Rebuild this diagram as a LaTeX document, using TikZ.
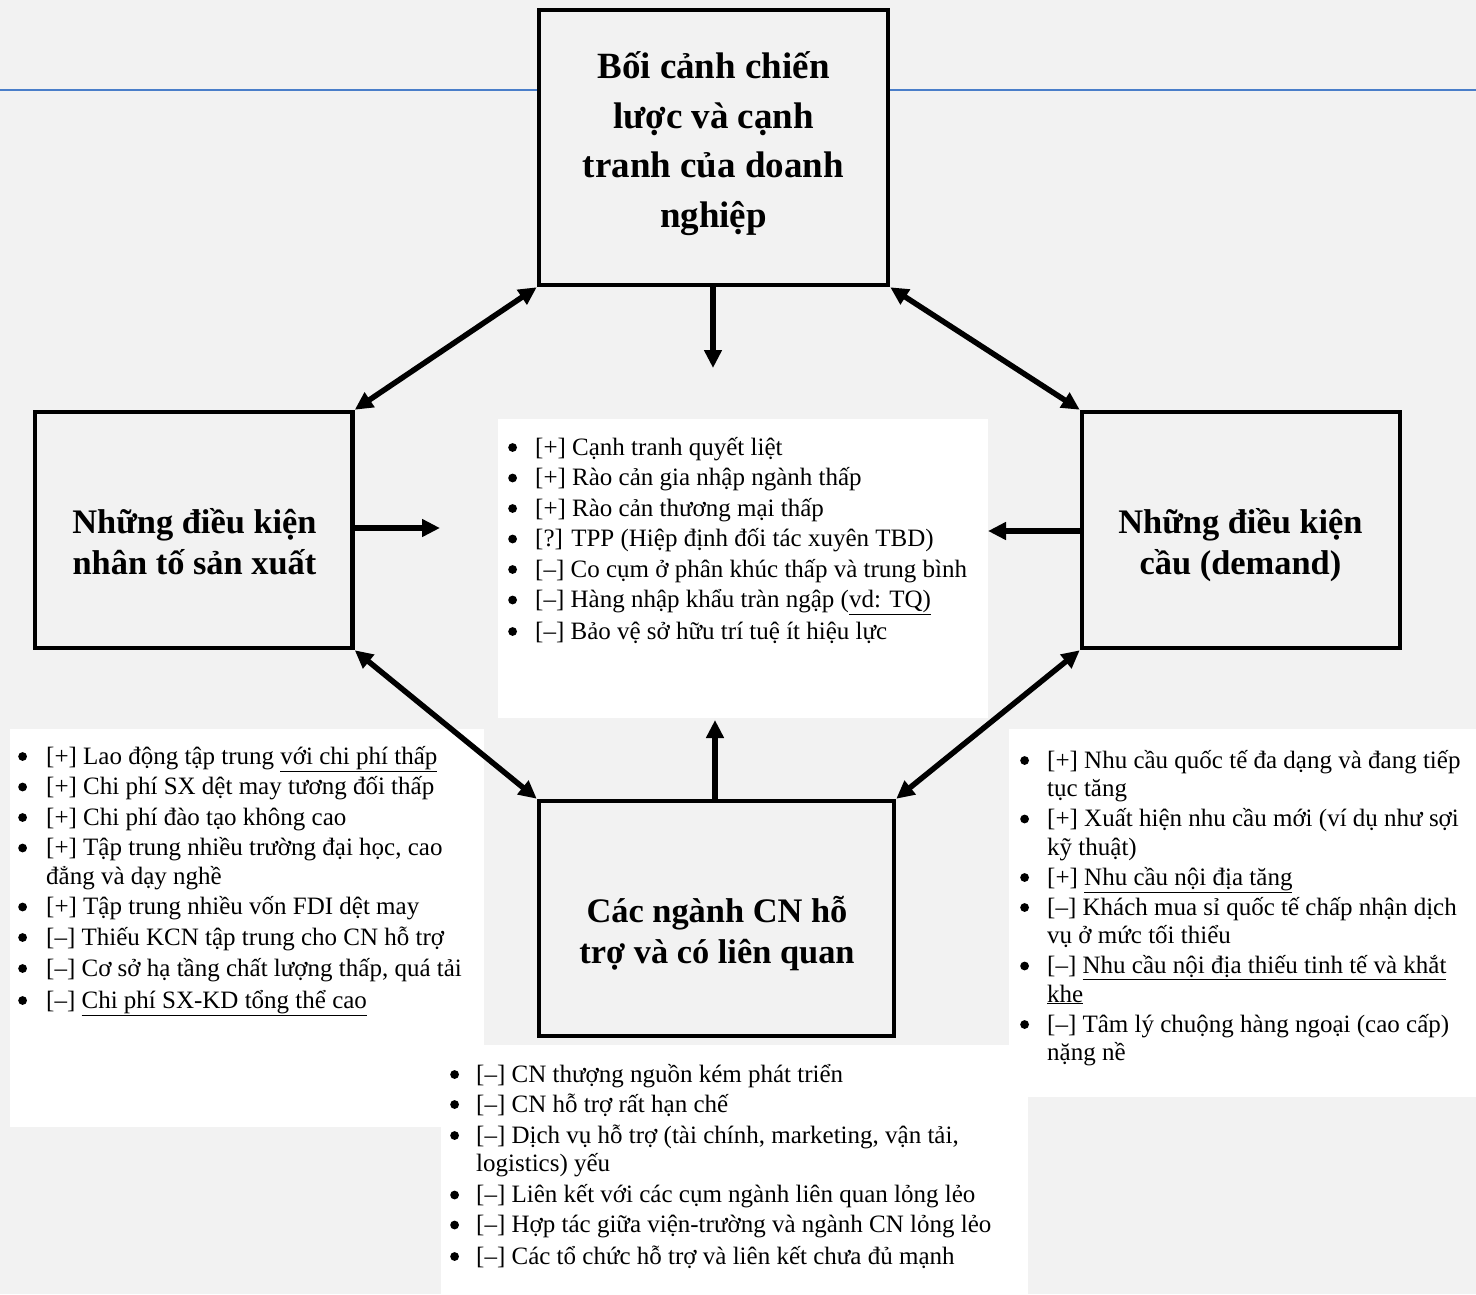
\documentclass[tikz,border=0pt]{standalone}
\usepackage{fontspec}
\setmainfont{Liberation Serif}
\usetikzlibrary{arrows.meta}
\definecolor{bgc}{HTML}{F2F2F2}
\definecolor{rulec}{HTML}{4A7EC9}
\newlength\bw
% round list bullet, centred on the x-height
\newcommand\bdot{\tikz[x=1pt,y=1pt,baseline=0pt]\fill[black] (4.5,7.5) circle[radius=4.4];}
\newcommand\bl{\makebox[\bw][l]{\bdot}}
\newcommand\ct{\hspace*{\bw}}
\newcommand\uln[1]{\underline{#1}}
\newcommand\listfont{\fontsize{25}{28.5}\selectfont}

\begin{document}
\begin{tikzpicture}[x=1pt,y=-1pt,
  box/.style={draw, line width=4.5pt, fill=bgc, inner sep=0pt},
  title/.style={anchor=base, inner sep=0pt, font=\bfseries},
  list/.style={anchor=base west, inner sep=0pt},
  arr/.style={line width=5.5pt, -{Triangle[length=18pt,width=17pt]}},
  darr/.style={line width=5.5pt, {Triangle[length=18pt,width=17pt]}-{Triangle[length=18pt,width=17pt]}}]

% page background
\fill[bgc] (0,0) rectangle (1476,1294);
\useasboundingbox (0,0) rectangle (1476,1294);

% horizontal rule behind the top box
\draw[rulec, line width=2pt] (0,89.5) -- (1476,89.5);

% white text panels
\fill[white] (498,419) rectangle (988,718);
\fill[white] (10,729) rectangle (484,1127);
\fill[white] (1009,729) rectangle (1476,1097);
\fill[white] (441,1045) rectangle (1028,1294);

% the four boxes
\node[box, minimum width=349pt, minimum height=275pt] (ctx) at (713.5,147.5) {};
\node[box, minimum width=317.5pt, minimum height=236pt] (lf) at (193.75,530) {};
\node[box, minimum width=318pt, minimum height=236pt] (rt) at (1241,530) {};
\node[box, minimum width=355pt, minimum height=235pt] (cn) at (716.5,918.5) {};

% box titles
\node[title] (ctxT) at (713.5,78.5) {\begin{minipage}[t]{340pt}\centering\fontsize{37}{49.7}\selectfont
Bối cảnh chiến\\ lược và cạnh\\ tranh của doanh\\ nghiệp\end{minipage}};
\node[title] (lfT) at (194.5,533) {\begin{minipage}[t]{310pt}\centering\fontsize{34.4}{41}\selectfont
Những điều kiện\\ nhân tố sản xuất\end{minipage}};
\node[title] (rtT) at (1240.5,533) {\begin{minipage}[t]{310pt}\centering\fontsize{34.4}{41}\selectfont
Những điều kiện\\ cầu (demand)\end{minipage}};
\node[title] (cnT) at (717,922) {\begin{minipage}[t]{340pt}\centering\fontsize{34.4}{41}\selectfont
Các ngành CN hỗ\\ trợ và có liên quan\end{minipage}};

% connectors
\coordinate (dn) at (713,368);
\coordinate (lfe) at (440,528);
\coordinate (rte) at (988,531);
\coordinate (upe) at (715,720);
\draw[arr] (ctx.south -| dn) -- (dn);
\draw[arr] (lfe -| lf.east) -- (lfe);
\draw[arr] (rte -| rt.west) -- (rte);
\draw[arr] (upe |- cn.north) -- (upe);
\draw[darr] (ctx.south west) -- (lf.north east);
\draw[darr] (ctx.south east) -- (rt.north west);
\draw[darr] (lf.south east) -- (cn.north west);
\draw[darr] (rt.south west) -- (cn.north east);

% bullet lists
\node[list] (midL) at (508,455) {\setlength\bw{27pt}\begin{minipage}[t]{480pt}\listfont
\bl [+] Cạnh tranh quyết liệt\\[2pt]
\bl [+] Rào cản gia nhập ngành thấp\\[2pt]
\bl [+] Rào cản thương mại thấp\\[2pt]
\bl [?] TPP (Hiệp định đối tác xuyên TBD)\\[2pt]
\bl [–] Co cụm ở phân khúc thấp và trung bình\\[2pt]
\bl [–] Hàng nhập khẩu tràn ngập (\uln{vd: TQ)}\\[3pt]
\bl [–] Bảo vệ sở hữu trí tuệ ít hiệu lực\end{minipage}};

\node[list] (lfL) at (18,764) {\setlength\bw{28pt}\begin{minipage}[t]{470pt}\listfont
\bl [+] Lao động tập trung \uln{với chi phí thấp}\\[2pt]
\bl [+] Chi phí SX dệt may tương đối thấp\\[2pt]
\bl [+] Chi phí đào tạo không cao\\[2pt]
\bl [+] Tập trung nhiều trường đại học, cao\\
\ct đẳng và dạy nghề\\[2pt]
\bl [+] Tập trung nhiều vốn FDI dệt may\\[2pt]
\bl [–] Thiếu KCN tập trung cho CN hỗ trợ\\[2.5pt]
\bl [–] Cơ sở hạ tầng chất lượng thấp, quá tải\\[3.5pt]
\bl [–] \uln{Chi phí SX-KD tổng thể cao}\end{minipage}};

\node[list] (rtL) at (1020,768) {\setlength\bw{27pt}\begin{minipage}[t]{450pt}\listfont
\bl [+] Nhu cầu quốc tế đa dạng và đang tiếp\\
\ct tục tăng\\[1.5pt]
\bl [+] Xuất hiện nhu cầu mới (ví dụ như sợi\\
\ct kỹ thuật)\\[1.5pt]
\bl [+] \uln{Nhu cầu nội địa tăng}\\[1.5pt]
\bl [–] Khách mua sỉ quốc tế chấp nhận dịch\\
\ct vụ ở mức tối thiểu\\[1.5pt]
\bl [–] \uln{Nhu cầu nội địa thiếu tinh tế và khắt}\\
\ct \uln{khe}\\[1.5pt]
\bl [–] Tâm lý chuộng hàng ngoại (cao cấp)\\
\ct nặng nề\end{minipage}};

\node[list] (cnL) at (450,1082) {\setlength\bw{26pt}\begin{minipage}[t]{570pt}\listfont
\bl [–] CN thượng nguồn kém phát triển\\[1.5pt]
\bl [–] CN hỗ trợ rất hạn chế\\[2.5pt]
\bl [–] Dịch vụ hỗ trợ (tài chính, marketing, vận tải,\\
\ct logistics) yếu\\[2.5pt]
\bl [–] Liên kết với các cụm ngành liên quan lỏng lẻo\\[1.5pt]
\bl [–] Hợp tác giữa viện-trường và ngành CN lỏng lẻo\\[3pt]
\bl [–] Các tổ chức hỗ trợ và liên kết chưa đủ mạnh\end{minipage}};
\end{tikzpicture}
\end{document}
